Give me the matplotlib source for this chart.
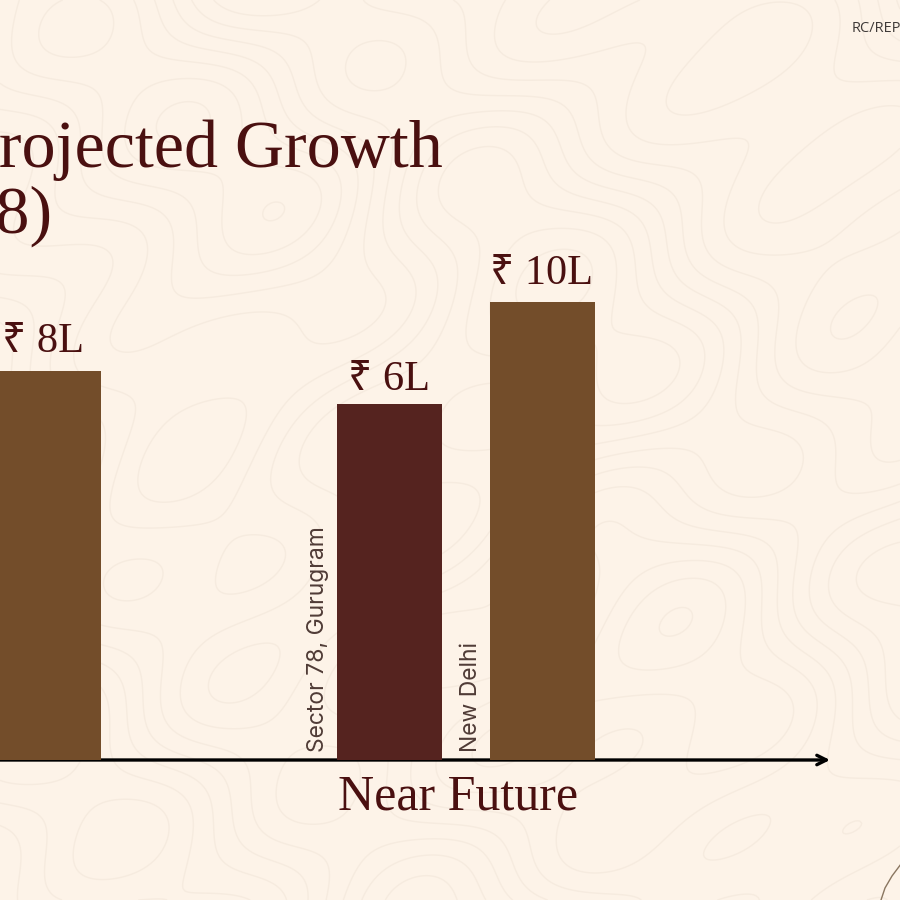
import numpy as np
import matplotlib
matplotlib.use("Agg")
import matplotlib.pyplot as plt

# Values as printed above the bars, and the bar heights as drawn (not to scale in the source)
value_labels = ["₹ 8L", "₹ 6L", "₹ 10L"]
bar_heights = [8.49, 7.77, 10.0]
bar_colors = ["#734d2a", "#55231f", "#734d2a"]
place_labels = ["", "Sector 78, Gurugram", "New Delhi"]
bar_centers = [48.5, 389.5, 542.5]
label_centers = [43.5, 388.5, 541.5]
label_gaps = [13.5, 10, 13]

BG = "#fdf3e8"
TEXT = "#4a1010"
SERIF = ["Liberation Serif", "Noto Sans", "DejaVu Sans"]
PX = 45.8  # pixels per unit of height

fig = plt.figure(figsize=(9, 9), dpi=100, facecolor=BG)
ax = fig.add_axes([0, 0, 1, 1])
ax.set_xlim(0, 900)
ax.set_ylim(-140 / PX, 760 / PX)
ax.axis("off")

# Faint topographic texture behind the chart
gx, gy = np.meshgrid(np.linspace(0, 900, 400), np.linspace(-140 / PX, 760 / PX, 400))
field = (np.sin(gx / 95 + 1.2 * np.cos(gy * PX / 140)) + np.cos(gy * PX / 110 + np.sin(gx / 120))
         + 0.5 * np.sin((gx + gy * PX) / 60) + 0.35 * np.cos((gx - 1.4 * gy * PX) / 38))
ax.contour(gx, gy, field, levels=11, colors="#f6ebdf", linewidths=1.0,
           linestyles="solid", zorder=0)

# x axis arrow
ax.annotate("", xy=(830, 0), xytext=(-10, 0), zorder=2,
            arrowprops=dict(arrowstyle="->", color="black", lw=2.4, mutation_scale=17,
                            shrinkA=0, shrinkB=0))

ax.bar(bar_centers, bar_heights, width=105, color=bar_colors, zorder=3)

for x, h, label, gap in zip(label_centers, bar_heights, value_labels, label_gaps):
    ax.annotate(label, xy=(x, h), xytext=(0, gap), textcoords="offset points",
                ha="center", va="baseline", fontsize=30.5, color=TEXT, family=SERIF)

for x, label in zip(bar_centers, place_labels):
    ax.annotate(label, xy=(x - 52.5, 0), xytext=(-14, 6), textcoords="offset points",
                rotation=90, ha="center", va="bottom", fontsize=16.5, color="#4f3b36",
                family=["Inter"])

fig.text(443 / 900, 1 - 167 / 900, "Projected Growth", ha="right", va="baseline",
         fontsize=49, color=TEXT, family=SERIF)
fig.text(52 / 900, 1 - 233 / 900, "(Sector 78)", ha="right", va="baseline",
         fontsize=49, color=TEXT, family=SERIF)
fig.text(458 / 900, 1 - 810 / 900, "Near Future", ha="center", va="baseline",
         fontsize=36, color=TEXT, family=SERIF)
fig.text(852 / 900, 1 - 28 / 900, "RC/REP", ha="left", va="center",
         fontsize=10.5, color="#3f3a38", family=["Open Sans"])

# Corner flourish bottom right
ax.plot([881, 885, 892, 901], [-140 / PX, -128 / PX, -116 / PX, -104 / PX],
        color="#8a7660", lw=1, zorder=1)

fig.savefig("out.png", dpi=100, facecolor=BG)
